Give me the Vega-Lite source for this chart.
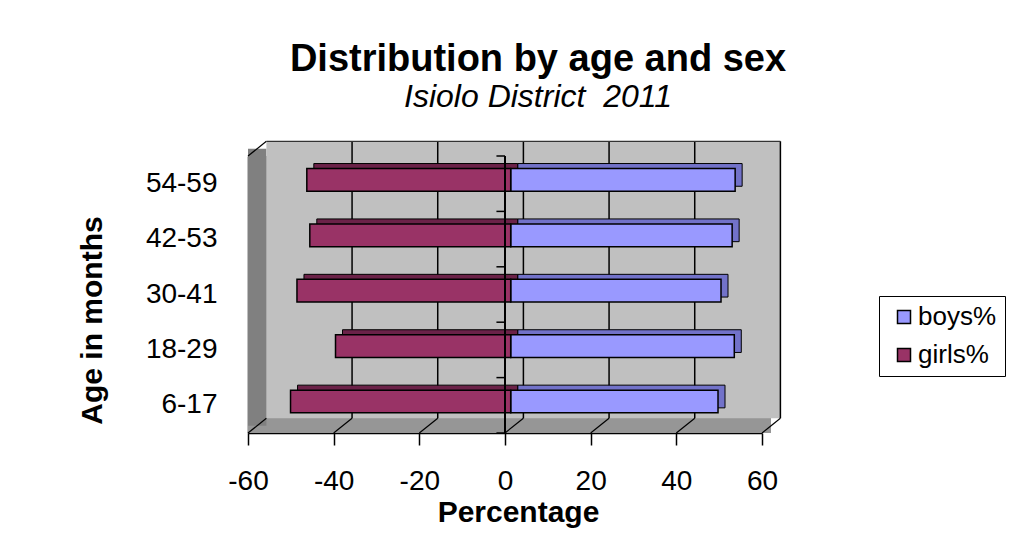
{
  "$schema": "https://vega.github.io/schema/vega-lite/v6.json",
  "width": 514,
  "height": 277,
  "autosize": {"type": "none"},
  "padding": {"left": 248, "top": 156, "right": 248, "bottom": 113},
  "background": "white",
  "title": {"text": "Distribution by age and sex", "subtitle": "Isiolo District\u00a0 2011"},
  "datasets": {
    "pop": [
      {"age": "6-17", "sex": "boys%", "pct": 48.4},
      {"age": "18-29", "sex": "boys%", "pct": 52.2},
      {"age": "30-41", "sex": "boys%", "pct": 49.1},
      {"age": "42-53", "sex": "boys%", "pct": 51.7},
      {"age": "54-59", "sex": "boys%", "pct": 52.4},
      {"age": "6-17", "sex": "girls%", "pct": -51.4},
      {"age": "18-29", "sex": "girls%", "pct": -40.9},
      {"age": "30-41", "sex": "girls%", "pct": -49.9},
      {"age": "42-53", "sex": "girls%", "pct": -46.9},
      {"age": "54-59", "sex": "girls%", "pct": -47.6}
    ],
    "ticks": [{"v": -60}, {"v": -40}, {"v": -20}, {"v": 0}, {"v": 20}, {"v": 40}, {"v": 60}],
    "one": [{}]
  },
  "layer": [
    {
      "layer": [
        {
          "data": {"name": "one"},
          "mark": {"type": "rect", "color": "#969696", "x2Offset": 9},
          "encoding": {
            "x": {"datum": -60, "type": "quantitative", "scale": {"domain": [-60, 60], "nice": false, "zero": false},
                  "axis": {"values": [-60, -40, -20, 0, 20, 40, 60], "title": "Percentage"}},
            "x2": {"datum": 60},
            "y": {"datum": 0, "type": "quantitative", "scale": {"domain": [0, 1], "nice": false, "zero": false}, "axis": null},
            "y2": {"datum": 1}
          }
        },
        {
          "data": {"name": "one"},
          "mark": {"type": "rect", "color": "#808080", "x2Offset": 18.4, "yOffset": -7.3, "y2Offset": -7.3},
          "encoding": {
            "x": {"datum": -60, "type": "quantitative", "scale": {"domain": [-60, 60], "nice": false, "zero": false},
                  "axis": {"values": [-60, -40, -20, 0, 20, 40, 60], "title": "Percentage"}},
            "x2": {"datum": -60},
            "y": {"datum": 0, "type": "quantitative", "axis": null},
            "y2": {"datum": 1}
          }
        },
        {
          "data": {"name": "one"},
          "mark": {"type": "rect", "color": "#c0c0c0", "xOffset": 18.4, "x2Offset": 18.4, "yOffset": -14.7, "y2Offset": -14.7},
          "encoding": {
            "x": {"datum": -60, "type": "quantitative", "scale": {"domain": [-60, 60], "nice": false, "zero": false},
                  "axis": {"values": [-60, -40, -20, 0, 20, 40, 60], "title": "Percentage"}},
            "x2": {"datum": 60},
            "y": {"datum": 0, "type": "quantitative", "axis": null},
            "y2": {"datum": 1}
          }
        },
        {
          "data": {"name": "ticks"},
          "transform": [{"filter": "datum.v > -60"}],
          "mark": {"type": "rule", "color": "black", "strokeWidth": 1.5, "xOffset": 18.4, "yOffset": -14.7, "y2Offset": -14.7},
          "encoding": {
            "x": {"field": "v", "type": "quantitative", "scale": {"domain": [-60, 60], "nice": false, "zero": false},
                  "axis": {"values": [-60, -40, -20, 0, 20, 40, 60], "title": "Percentage"}},
            "y": {"datum": 0, "type": "quantitative", "axis": null},
            "y2": {"datum": 1}
          }
        },
        {
          "data": {"name": "ticks"},
          "mark": {"type": "rule", "color": "black", "strokeWidth": 1.2, "x2Offset": 18.4, "y2Offset": -14.7},
          "encoding": {
            "x": {"field": "v", "type": "quantitative", "scale": {"domain": [-60, 60], "nice": false, "zero": false},
                  "axis": {"values": [-60, -40, -20, 0, 20, 40, 60], "title": "Percentage"}},
            "x2": {"field": "v"},
            "y": {"datum": 0, "type": "quantitative", "axis": null},
            "y2": {"datum": 0}
          }
        },
        {
          "data": {"name": "one"},
          "mark": {"type": "rule", "color": "black", "strokeWidth": 1.2, "x2Offset": 18.4, "y2Offset": -14.7},
          "encoding": {
            "x": {"datum": -60, "type": "quantitative", "scale": {"domain": [-60, 60], "nice": false, "zero": false},
                  "axis": {"values": [-60, -40, -20, 0, 20, 40, 60], "title": "Percentage"}},
            "x2": {"datum": -60},
            "y": {"datum": 1, "type": "quantitative", "axis": null},
            "y2": {"datum": 1}
          }
        },
        {
          "data": {"name": "one"},
          "mark": {"type": "rule", "color": "#333333", "strokeWidth": 1.2, "xOffset": 18.4, "x2Offset": 18.4, "yOffset": -14.7},
          "encoding": {
            "x": {"datum": -60, "type": "quantitative", "scale": {"domain": [-60, 60], "nice": false, "zero": false},
                  "axis": {"values": [-60, -40, -20, 0, 20, 40, 60], "title": "Percentage"}},
            "x2": {"datum": 60},
            "y": {"datum": 1, "type": "quantitative", "axis": null}
          }
        }
      ]
    },
    {
      "data": {"name": "pop"},
      "layer": [
        {
          "mark": {"type": "bar", "height": {"band": 0.41}, "xOffset": 12.7, "x2Offset": 12.7, "yOffset": -8.8, "stroke": "black", "strokeWidth": 1},
          "encoding": {
            "x": {"field": "pct", "type": "quantitative", "scale": {"domain": [-60, 60], "nice": false, "zero": false},
                  "axis": {"values": [-60, -40, -20, 0, 20, 40, 60], "title": "Percentage"}},
            "y": {"field": "age", "type": "nominal", "sort": ["54-59", "42-53", "30-41", "18-29", "6-17"],
                  "scale": {"paddingInner": 0, "paddingOuter": 0},
                  "axis": {"title": "Age in months"}},
            "color": {"condition": {"test": "datum.sex === 'boys%'", "value": "#7272c9"}, "value": "#6b2248"}
          }
        },
        {
          "mark": {"type": "bar", "height": {"band": 0.41}, "xOffset": 5.7, "x2Offset": 5.7, "yOffset": -3.8, "stroke": "black", "strokeWidth": 1.5},
          "encoding": {
            "x": {"field": "pct", "type": "quantitative", "scale": {"domain": [-60, 60], "nice": false, "zero": false},
                  "axis": {"values": [-60, -40, -20, 0, 20, 40, 60], "title": "Percentage"}},
            "y": {"field": "age", "type": "nominal", "sort": ["54-59", "42-53", "30-41", "18-29", "6-17"]},
            "fill": {"field": "sex", "type": "nominal",
                     "scale": {"domain": ["boys%", "girls%"], "range": ["#9999ff", "#993366"]},
                     "legend": {"title": null, "orient": "none", "legendX": 631, "legendY": 140,
                                "fillColor": "white", "strokeColor": "black", "padding": 8,
                                "symbolType": "square", "symbolSize": 169, "symbolStrokeColor": "black",
                                "symbolStrokeWidth": 1.5, "symbolOffset": 4, "labelFontSize": 26,
                                "labelFont": "Liberation Sans", "labelColor": "black", "labelOffset": 1,
                                "rowPadding": 12, "labelLimit": 200}}
          }
        },
        {
          "mark": {"type": "rule", "color": "black", "strokeWidth": 1.5},
          "encoding": {
            "x": {"datum": 0, "type": "quantitative", "scale": {"domain": [-60, 60], "nice": false, "zero": false},
                  "axis": {"values": [-60, -40, -20, 0, 20, 40, 60], "title": "Percentage"}}
          }
        },
        {
          "transform": [{"filter": "datum.sex === 'boys%'"}],
          "mark": {"type": "rule", "color": "black", "strokeWidth": 1.5},
          "encoding": {
            "x": {"datum": -2, "type": "quantitative", "scale": {"domain": [-60, 60], "nice": false, "zero": false},
                  "axis": {"values": [-60, -40, -20, 0, 20, 40, 60], "title": "Percentage"}},
            "x2": {"datum": 0},
            "y": {"field": "age", "type": "nominal", "bandPosition": 0, "sort": ["54-59", "42-53", "30-41", "18-29", "6-17"]}
          }
        },
        {
          "transform": [{"filter": "datum.sex === 'boys%' && datum.age === '6-17'"}],
          "mark": {"type": "rule", "color": "black", "strokeWidth": 1.5},
          "encoding": {
            "x": {"datum": -2, "type": "quantitative", "scale": {"domain": [-60, 60], "nice": false, "zero": false},
                  "axis": {"values": [-60, -40, -20, 0, 20, 40, 60], "title": "Percentage"}},
            "x2": {"datum": 0},
            "y": {"field": "age", "type": "nominal", "bandPosition": 1, "sort": ["54-59", "42-53", "30-41", "18-29", "6-17"]}
          }
        }
      ]
    }
  ],
  "resolve": {"scale": {"y": "independent"}},
  "config": {
    "font": "Liberation Sans",
    "view": {"stroke": null},
    "axis": {
      "labelFont": "Liberation Sans",
      "titleFont": "Liberation Sans",
      "labelColor": "black",
      "titleColor": "black",
      "domainColor": "black",
      "tickColor": "black",
      "grid": false
    },
    "axisX": {
      "domainWidth": 1.5,
      "tickWidth": 1.5,
      "tickSize": 12,
      "labelFontSize": 28,
      "labelPadding": 22,
      "labelFlush": false,
      "labelOverlap": false,
      "labelExpr": "datum.value < 0 ? '-' + abs(datum.value) : '' + datum.value",
      "titleFontSize": 30,
      "titleFontWeight": "bold",
      "titleX": 270,
      "titleY": 88,
      "titleBaseline": "alphabetic"
    },
    "axisY": {
      "domainWidth": 1.5,
      "ticks": false,
      "tickSize": 0,
      "labelFontSize": 28,
      "labelPadding": 31,
      "titleFontSize": 30,
      "titleFontWeight": "bold",
      "titleAngle": -90,
      "titleX": -141,
      "titleY": 164,
      "titleAlign": "center",
      "titleBaseline": "bottom"
    },
    "title": {
      "font": "Liberation Sans",
      "fontSize": 38,
      "fontWeight": "bold",
      "color": "black",
      "subtitleFont": "Liberation Sans",
      "subtitleFontSize": 32,
      "subtitleFontStyle": "italic",
      "subtitleColor": "black",
      "subtitlePadding": 3,
      "anchor": "middle",
      "frame": "group",
      "dx": 33,
      "offset": 28
    }
  }
}
